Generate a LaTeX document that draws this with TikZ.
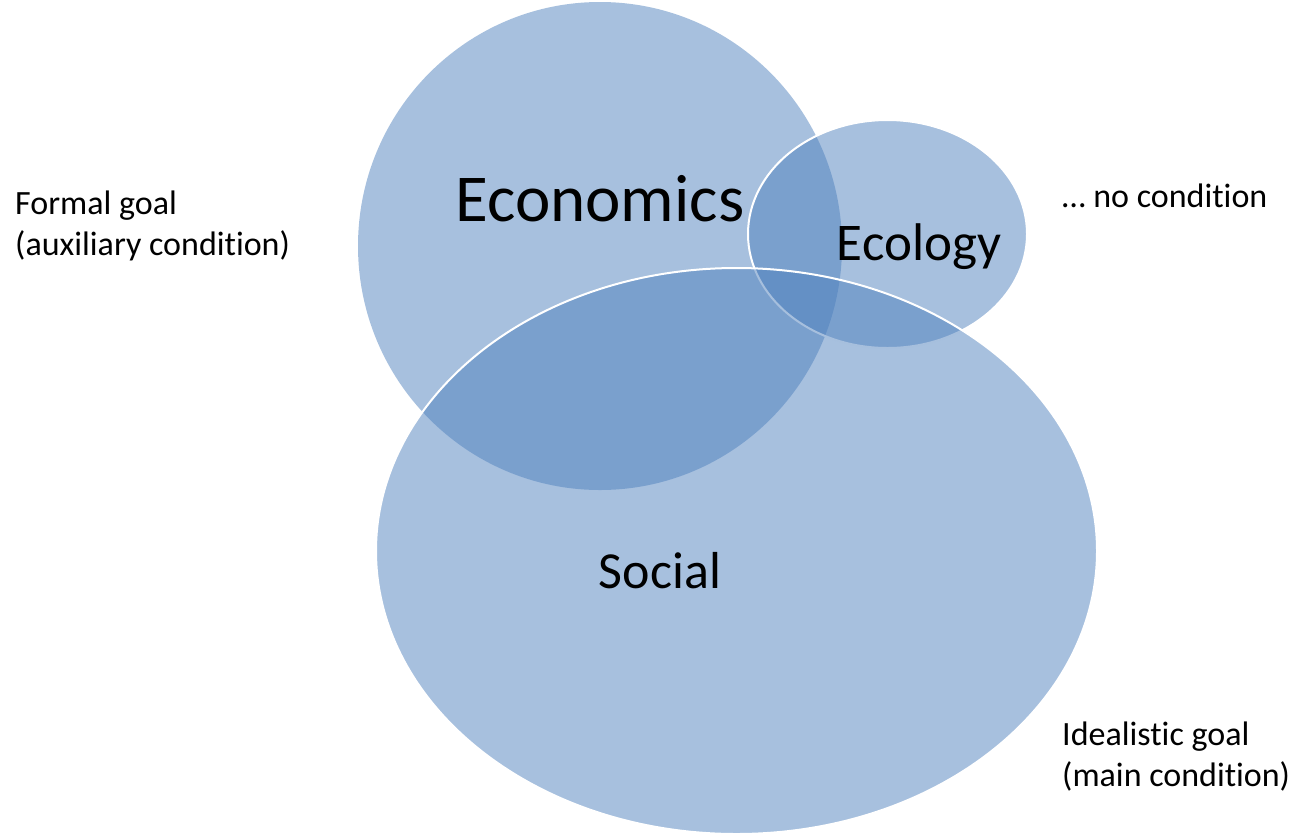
\documentclass[tikz,border=0pt]{standalone}
\usepackage{fontspec}
\setmainfont{Carlito}[Ligatures={NoCommon}]
\usetikzlibrary{shapes.geometric}
\definecolor{vblue}{HTML}{4F81BD}
\tikzset{
  venn/.style={ellipse, inner sep=0pt, fill=vblue, fill opacity=0.5},
  vennline/.style={draw=white, line width=2pt},
  side/.style={anchor=base west, inner sep=0pt, font=\fontsize{34}{41}\selectfont, align=left},
  big/.style={anchor=base, inner sep=0pt}
}
\begin{document}
\begin{tikzpicture}[x=1pt,y=-1pt]
\useasboundingbox (0,0) rectangle (1297,836);
\node[venn, minimum width=484pt, minimum height=488pt] (econ) at (600,246) {};
\node[venn, vennline, minimum width=279pt, minimum height=228pt] (ecol) at (887.5,234) {};
\node[venn, vennline, minimum width=721pt, minimum height=566pt] (soc) at (736.5,551) {};
\node[big, font=\fontsize{67}{80}\selectfont] (econt) at (600,221) {Economics};
\node[big, font=\fontsize{53}{60}\selectfont] (ecolt) at (919,260) {Ecology};
\node[big, font=\fontsize{52}{60}\selectfont] (soct) at (660,588) {Social};
\node[side] (formal) at (15,214) {Formal goal};
\node[side] (aux) at (15,255) {(auxiliary condition)};
\node[side] (nocond) at (1062,207) {… no condition};
\node[side] (ideal) at (1062,745) {Idealistic goal};
\node[side] (main) at (1062,786) {(main condition)};
\end{tikzpicture}
\end{document}
